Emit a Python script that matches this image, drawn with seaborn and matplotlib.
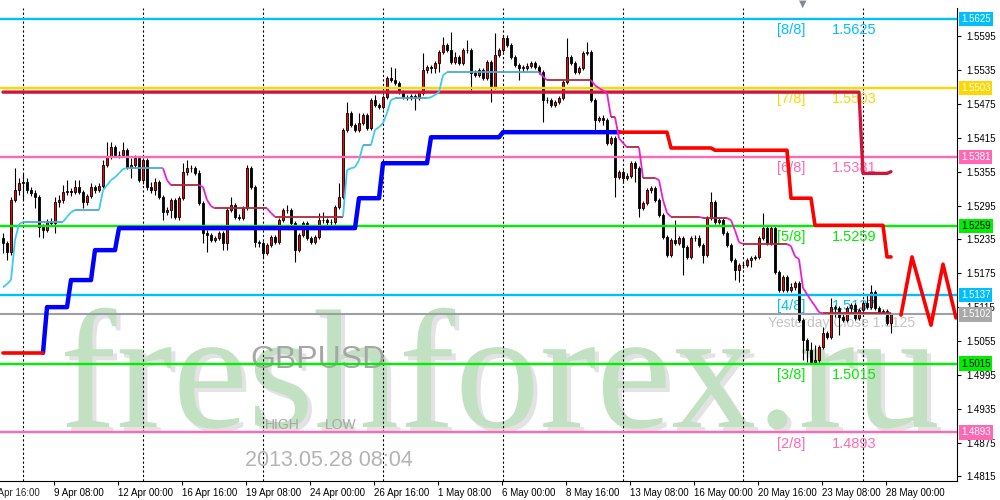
import numpy as np
import matplotlib
matplotlib.use("Agg")
import matplotlib.pyplot as plt
import matplotlib.patheffects as pe
import seaborn as sns

sns.set_style("white")
plt.rcParams['font.family'] = ['Liberation Sans', 'DejaVu Sans']

# GBPUSD H4 candles (close / high / low), open = previous close
first_open = 1.5237
closes = [
    1.5228, 1.5213, 1.5305, 1.5322, 1.5335, 1.5336, 1.5322, 1.5317, 1.5310, 1.5257,
    1.5251, 1.5266, 1.5264, 1.5301, 1.5305, 1.5319, 1.5321, 1.5319, 1.5328, 1.5319,
    1.5301, 1.5312, 1.5328, 1.5322, 1.5329, 1.5367, 1.5381, 1.5398, 1.5384, 1.5384,
    1.5393, 1.5363, 1.5367, 1.5379, 1.5340, 1.5375, 1.5328, 1.5322, 1.5336, 1.5310,
    1.5283, 1.5287, 1.5305, 1.5275, 1.5308, 1.5354, 1.5361, 1.5361, 1.5352, 1.5299,
    1.5246, 1.5243, 1.5234, 1.5237, 1.5246, 1.5228, 1.5287, 1.5296, 1.5275, 1.5273,
    1.5290, 1.5361, 1.5328, 1.5230, 1.5228, 1.5211, 1.5225, 1.5239, 1.5230, 1.5269,
    1.5287, 1.5287, 1.5264, 1.5216, 1.5243, 1.5264, 1.5237, 1.5230, 1.5239, 1.5269,
    1.5269, 1.5266, 1.5266, 1.5292, 1.5310, 1.5429, 1.5459, 1.5437, 1.5429, 1.5441,
    1.5455, 1.5432, 1.5482, 1.5473, 1.5469, 1.5487, 1.5521, 1.5517, 1.5512, 1.5496,
    1.5487, 1.5485, 1.5489, 1.5485, 1.5494, 1.5535, 1.5540, 1.5539, 1.5547, 1.5567,
    1.5579, 1.5570, 1.5549, 1.5558, 1.5547, 1.5570, 1.5570, 1.5530, 1.5526, 1.5535,
    1.5521, 1.5549, 1.5505, 1.5562, 1.5570, 1.5592, 1.5579, 1.5558, 1.5544, 1.5539,
    1.5539, 1.5542, 1.5547, 1.5540, 1.5531, 1.5482, 1.5482, 1.5473, 1.5478, 1.5485,
    1.5514, 1.5558, 1.5547, 1.5531, 1.5539, 1.5565, 1.5567, 1.5482, 1.5446, 1.5450,
    1.5446, 1.5406, 1.5414, 1.5345, 1.5354, 1.5344, 1.5347, 1.5370, 1.5361, 1.5290,
    1.5299, 1.5322, 1.5326, 1.5305, 1.5278, 1.5239, 1.5207, 1.5234, 1.5228, 1.5237,
    1.5221, 1.5204, 1.5237, 1.5237, 1.5225, 1.5207, 1.5273, 1.5301, 1.5266, 1.5269,
    1.5246, 1.5225, 1.5198, 1.5181, 1.5189, 1.5189, 1.5198, 1.5202, 1.5204, 1.5237,
    1.5255, 1.5228, 1.5255, 1.5177, 1.5145, 1.5168, 1.5145, 1.5150, 1.5158, 1.5092,
    1.5057, 1.5039, 1.5018, 1.5021, 1.5044, 1.5069, 1.5062, 1.5115, 1.5113, 1.5097,
    1.5092, 1.5113, 1.5119, 1.5096, 1.5110, 1.5122, 1.5115, 1.5142, 1.5113, 1.5106,
    1.5108, 1.5087, 1.5102]
highs = [
    1.5246, 1.5232, 1.5310, 1.5361, 1.5344, 1.5352, 1.5344, 1.5328, 1.5322, 1.5313,
    1.5262, 1.5271, 1.5273, 1.5310, 1.5313, 1.5331, 1.5340, 1.5326, 1.5340, 1.5340,
    1.5322, 1.5315, 1.5335, 1.5331, 1.5335, 1.5375, 1.5407, 1.5407, 1.5402, 1.5391,
    1.5407, 1.5397, 1.5379, 1.5384, 1.5383, 1.5379, 1.5379, 1.5336, 1.5344, 1.5340,
    1.5313, 1.5292, 1.5308, 1.5308, 1.5312, 1.5370, 1.5375, 1.5367, 1.5365, 1.5358,
    1.5303, 1.5251, 1.5246, 1.5241, 1.5250, 1.5250, 1.5290, 1.5310, 1.5299, 1.5280,
    1.5294, 1.5367, 1.5365, 1.5331, 1.5234, 1.5232, 1.5228, 1.5243, 1.5243, 1.5273,
    1.5290, 1.5296, 1.5290, 1.5267, 1.5246, 1.5267, 1.5267, 1.5241, 1.5243, 1.5282,
    1.5283, 1.5273, 1.5271, 1.5296, 1.5335, 1.5432, 1.5478, 1.5462, 1.5441, 1.5459,
    1.5459, 1.5459, 1.5485, 1.5491, 1.5476, 1.5491, 1.5524, 1.5540, 1.5539, 1.5515,
    1.5499, 1.5491, 1.5492, 1.5492, 1.5498, 1.5565, 1.5544, 1.5544, 1.5551, 1.5570,
    1.5593, 1.5583, 1.5602, 1.5567, 1.5562, 1.5574, 1.5588, 1.5574, 1.5535, 1.5539,
    1.5539, 1.5553, 1.5553, 1.5601, 1.5574, 1.5597, 1.5597, 1.5583, 1.5562, 1.5547,
    1.5544, 1.5547, 1.5551, 1.5551, 1.5544, 1.5535, 1.5487, 1.5485, 1.5482, 1.5489,
    1.5517, 1.5592, 1.5562, 1.5551, 1.5542, 1.5569, 1.5585, 1.5570, 1.5485, 1.5453,
    1.5455, 1.5450, 1.5418, 1.5418, 1.5358, 1.5358, 1.5352, 1.5374, 1.5374, 1.5365,
    1.5303, 1.5326, 1.5329, 1.5329, 1.5308, 1.5282, 1.5243, 1.5237, 1.5269, 1.5241,
    1.5241, 1.5225, 1.5241, 1.5243, 1.5243, 1.5228, 1.5276, 1.5319, 1.5305, 1.5275,
    1.5273, 1.5250, 1.5228, 1.5202, 1.5193, 1.5195, 1.5202, 1.5205, 1.5207, 1.5241,
    1.5282, 1.5259, 1.5259, 1.5259, 1.5181, 1.5172, 1.5172, 1.5158, 1.5161, 1.5161,
    1.5095, 1.5060, 1.5053, 1.5048, 1.5048, 1.5080, 1.5072, 1.5131, 1.5119, 1.5117,
    1.5104, 1.5117, 1.5122, 1.5122, 1.5113, 1.5126, 1.5136, 1.5154, 1.5145, 1.5117,
    1.5111, 1.5111, 1.5104]
lows = [
    1.5211, 1.5198, 1.5207, 1.5301, 1.5313, 1.5305, 1.5317, 1.5312, 1.5290, 1.5239,
    1.5237, 1.5248, 1.5259, 1.5246, 1.5292, 1.5299, 1.5313, 1.5312, 1.5315, 1.5315,
    1.5290, 1.5296, 1.5308, 1.5317, 1.5319, 1.5326, 1.5363, 1.5377, 1.5381, 1.5379,
    1.5381, 1.5360, 1.5344, 1.5361, 1.5336, 1.5333, 1.5322, 1.5317, 1.5313, 1.5306,
    1.5269, 1.5278, 1.5273, 1.5271, 1.5269, 1.5305, 1.5349, 1.5354, 1.5349, 1.5296,
    1.5228, 1.5213, 1.5230, 1.5230, 1.5234, 1.5216, 1.5216, 1.5283, 1.5271, 1.5269,
    1.5269, 1.5287, 1.5324, 1.5221, 1.5221, 1.5202, 1.5207, 1.5221, 1.5227, 1.5227,
    1.5266, 1.5282, 1.5260, 1.5195, 1.5213, 1.5239, 1.5234, 1.5227, 1.5227, 1.5236,
    1.5264, 1.5260, 1.5260, 1.5262, 1.5289, 1.5306, 1.5425, 1.5434, 1.5425, 1.5425,
    1.5437, 1.5429, 1.5429, 1.5469, 1.5466, 1.5466, 1.5484, 1.5514, 1.5508, 1.5492,
    1.5484, 1.5482, 1.5482, 1.5464, 1.5482, 1.5491, 1.5530, 1.5530, 1.5530, 1.5531,
    1.5563, 1.5567, 1.5546, 1.5546, 1.5544, 1.5544, 1.5565, 1.5499, 1.5523, 1.5523,
    1.5517, 1.5517, 1.5478, 1.5501, 1.5558, 1.5567, 1.5576, 1.5554, 1.5540, 1.5517,
    1.5533, 1.5535, 1.5539, 1.5537, 1.5528, 1.5443, 1.5476, 1.5469, 1.5469, 1.5475,
    1.5482, 1.5510, 1.5544, 1.5528, 1.5528, 1.5535, 1.5562, 1.5478, 1.5429, 1.5443,
    1.5437, 1.5402, 1.5402, 1.5310, 1.5342, 1.5335, 1.5340, 1.5344, 1.5336, 1.5275,
    1.5287, 1.5296, 1.5317, 1.5301, 1.5275, 1.5236, 1.5204, 1.5204, 1.5225, 1.5225,
    1.5172, 1.5200, 1.5200, 1.5232, 1.5221, 1.5193, 1.5204, 1.5269, 1.5262, 1.5262,
    1.5243, 1.5221, 1.5195, 1.5163, 1.5159, 1.5184, 1.5186, 1.5186, 1.5198, 1.5200,
    1.5234, 1.5225, 1.5225, 1.5174, 1.5142, 1.5142, 1.5142, 1.5142, 1.5145, 1.5088,
    1.5021, 1.5018, 1.5014, 1.5014, 1.5018, 1.5041, 1.5058, 1.5058, 1.5097, 1.5065,
    1.5088, 1.5088, 1.5104, 1.5092, 1.5092, 1.5106, 1.5111, 1.5111, 1.5110, 1.5103,
    1.5103, 1.5083, 1.5069]

# thick trailing stop (blue while long, red while short)
trail = ([1.5034] * 11 + [1.5115] * 6 + [1.5163] * 6 + [1.5216] * 6 + [1.5255] * 60
         + [1.5308] * 6 + [1.5370] * 12 + [1.5416] * 18 + [1.5425] * 30 + [1.5425] * 12
         + [1.5397] * 11 + [1.5393] * 19 + [1.5308] * 6 + [1.5260] * 18 + [1.5204] * 2)
long_from, long_to = 10, 154

# crimson channel line
channel = [1.5496] * 215 + [1.5352] * 7 + [1.5355]

# thin kijun-style line
kijun = ([1.5150, 1.5156, 1.5163, 1.5234, 1.5262] + [1.5266] * 11 + [1.5275, 1.5283]
         + [1.5287] * 7 + [1.5322, 1.5331, 1.5340, 1.5345, 1.5352, 1.5360] + [1.5361] * 10
         + [1.5340] + [1.5331] * 8 + [1.5328, 1.5305, 1.5294] + [1.5290] * 14 + [1.5282]
         + [1.5275] * 18 + [1.5358, 1.5361, 1.5363, 1.5375] + [1.5402] * 3
         + [1.5429, 1.5434, 1.5441, 1.5459, 1.5482] + [1.5485] * 9
         + [1.5487, 1.5491, 1.5496, 1.5526] + [1.5531] * 24 + [1.5524] + [1.5517] * 12
         + [1.5508, 1.5503, 1.5499, 1.5494] + [1.5452] * 2 + [1.5414, 1.5406]
         + [1.5398] * 4 + [1.5344] * 4 + [1.5340, 1.5305, 1.5282] + [1.5275] * 8
         + [1.5273] * 7 + [1.5269, 1.5251, 1.5230] + [1.5227] * 12
         + [1.5223, 1.5205, 1.5200, 1.5149, 1.5138, 1.5127, 1.5117, 1.5106] + [1.5104] * 18)

# Murrey math levels
levels = [1.5625, 1.5503, 1.5381, 1.5259, 1.5137, 1.5015, 1.4893]
level_names = ["[8/8]", "[7/8]", "[6/8]", "[5/8]", "[4/8]", "[3/8]", "[2/8]"]
level_colors = ["#00bfff", "#ffd700", "#ff69b4", "#00ee00", "#00bfff", "#00ee00", "#ff69b4"]
level_text = ["white", "white", "white", "black", "white", "black", "white"]
last_price = 1.5102
yesterday_close = 1.5125

# zigzag projection
forecast_bars = [224.5, 227.25, 232.0, 235.0, 238.25]
forecast_prices = [1.5101, 1.5204, 1.5083, 1.5191, 1.5096]

time_ticks = [-3.25 + 16 * k for k in range(15)]
time_labels = ["4 Apr 16:00", "9 Apr 08:00", "12 Apr 00:00", "16 Apr 16:00", "19 Apr 08:00",
               "24 Apr 00:00", "26 Apr 16:00", "1 May 08:00", "6 May 00:00", "8 May 16:00",
               "13 May 08:00", "16 May 00:00", "20 May 16:00", "23 May 08:00", "28 May 00:00"]
grid_bars = [5 + 30 * k for k in range(8)]
price_ticks = [1.4815 + 0.006 * k for k in range(14)]

fig = plt.figure(figsize=(10, 5), dpi=100)
ax = fig.add_axes([0.0, 0.038, 0.957, 0.946])

bars = np.arange(len(closes))
c = np.array(closes)
o = np.r_[first_open, c[:-1]]
bull = c >= o

# vertical grid
for b in grid_bars:
    ax.axvline(b, color="black", lw=0.8, ls=(0, (2, 2)), zorder=1)

# candles
ax.vlines(bars, lows, highs, color="black", lw=0.8, zorder=2)
body_lo = np.minimum(o, c)
body_h = np.maximum(np.abs(c - o), 0.00006)
ax.bar(bars[bull], body_h[bull], bottom=body_lo[bull], width=0.55, color="red",
       edgecolor="black", linewidth=0.6, zorder=2.2)
ax.bar(bars[~bull], body_h[~bull], bottom=body_lo[~bull], width=0.55, color="black",
       edgecolor="black", linewidth=0.6, zorder=2.2)

# level lines
for lvl, col in zip(levels, level_colors):
    ax.axhline(lvl, color=col, lw=1.7, zorder=3)
ax.axhline(last_price, color="#9aa0a6", lw=1.5, zorder=3)

# channel + trailing stop
sns.lineplot(x=bars, y=channel, color="#d0143a", lw=2.4, ax=ax, zorder=3.5)
tr = np.array(trail)
sns.lineplot(x=bars[long_from:long_to + 1], y=tr[long_from:long_to + 1], color="#0000ff",
             lw=3.2, ax=ax, zorder=4)
sns.lineplot(x=bars[:long_from + 1], y=tr[:long_from + 1], color="#ff0000", lw=2.6, ax=ax, zorder=4)
sns.lineplot(x=bars[long_to:], y=tr[long_to:], color="#ff0000", lw=2.6, ax=ax, zorder=4)

# thin line coloured by direction
k = np.array(kijun)
state = "up"
for i in range(len(k) - 1):
    d = k[i + 1] - k[i]
    if d > 0:
        col, state = "#3ccbf0", "up"
    elif d < 0:
        col, state = "#e81ed2", "dn"
    else:
        col = "#4aa8d0" if state == "up" else "#b02838"
    ax.plot(bars[i:i + 2], k[i:i + 2], color=col, lw=1.3, zorder=4.5, solid_capstyle="butt")

sns.lineplot(x=forecast_bars, y=forecast_prices, color="#ff0000", lw=2.6, ax=ax, zorder=4)

# level captions
for lvl, name, col in zip(levels, level_names, level_colors):
    ax.annotate(name, (193.5, lvl), xytext=(0, -3), textcoords="offset points",
                color=col, fontsize=10.5, va="top", ha="left", zorder=1.5)
    ax.annotate(f"{lvl:.4f}", (207.25, lvl), xytext=(0, -3), textcoords="offset points",
                color=col, fontsize=10.5, va="top", ha="left", zorder=1.5)
ax.text(191.25, 1.5087, f"Yesterday Close {yesterday_close:.4f}", color="#c4c4c4",
        fontsize=10, va="center", ha="left", zorder=1.5)

# right-hand price boxes
ytr = ax.get_yaxis_transform()
for lvl, col, tc in zip(levels + [last_price], level_colors + ["#a8a8a8"], level_text + ["white"]):
    ax.text(1.004, lvl, f"{lvl:.4f}", transform=ytr, color=tc, fontsize=7, va="center",
            ha="left", clip_on=False, zorder=6,
            bbox=dict(boxstyle="square,pad=0.22", fc=col, ec="none"))

# watermark and chart captions
ax.text(0.5, 0.146, "freshforex.ru", transform=fig.transFigure, family="Liberation Serif",
        fontsize=122, color="#c2e0c2", ha="center", va="baseline", zorder=0.5,
        path_effects=[pe.withSimplePatchShadow(offset=(3, -3), shadow_rgbFace="#d8d8d8", alpha=0.7)])
ax.text(0.318, 0.28, "GBPUSD", transform=fig.transFigure, fontsize=23, color="#a6a6a6",
        ha="center", va="center", zorder=1)
ax.text(0.265, 0.15, "HIGH", transform=fig.transFigure, fontsize=10, color="#a6a6a6",
        ha="left", va="center", zorder=1)
ax.text(0.325, 0.15, "LOW", transform=fig.transFigure, fontsize=10, color="#a6a6a6",
        ha="left", va="center", zorder=1)
ax.text(0.245, 0.08, "2013.05.28 08:04", transform=fig.transFigure, fontsize=15.5,
        color="#b4b4b4", ha="left", va="center", zorder=1)
fig.text(0.803, 0.993, "\u25bc", color="#7f8a96", fontsize=7, ha="center", va="center",
         family="DejaVu Sans")

ax.yaxis.tick_right()
ax.set_yticks(price_ticks)
ax.set_yticklabels([f"{p:.4f}" for p in price_ticks])
ax.set_xticks(time_ticks[1:])
ax.set_xticklabels(time_labels[1:])
for lbl in ax.get_xticklabels():
    lbl.set_ha("left")
# first date label sits left of the visible range and is cut by the edge
ax.annotate(time_labels[0], (time_ticks[0], 0), xycoords=ax.get_xaxis_transform(),
            xytext=(0, -5), textcoords="offset points", fontsize=7, ha="left", va="top",
            annotation_clip=False)
ax.set_xlim(-0.75, 238.5)
ax.set_ylim(1.4807, 1.5645)
ax.tick_params(axis="both", labelsize=7, length=3, width=0.8, colors="black", direction="out")
ax.tick_params(axis="y", pad=4, left=False, right=True)
ax.tick_params(axis="x", pad=2, bottom=True)
ax.set_xlabel("")
ax.set_ylabel("")
for side in ["top", "left"]:
    ax.spines[side].set_visible(False)
for side in ["right", "bottom"]:
    ax.spines[side].set_color("black")
    ax.spines[side].set_linewidth(0.8)

fig.savefig("out.png", dpi=100, facecolor="white")
